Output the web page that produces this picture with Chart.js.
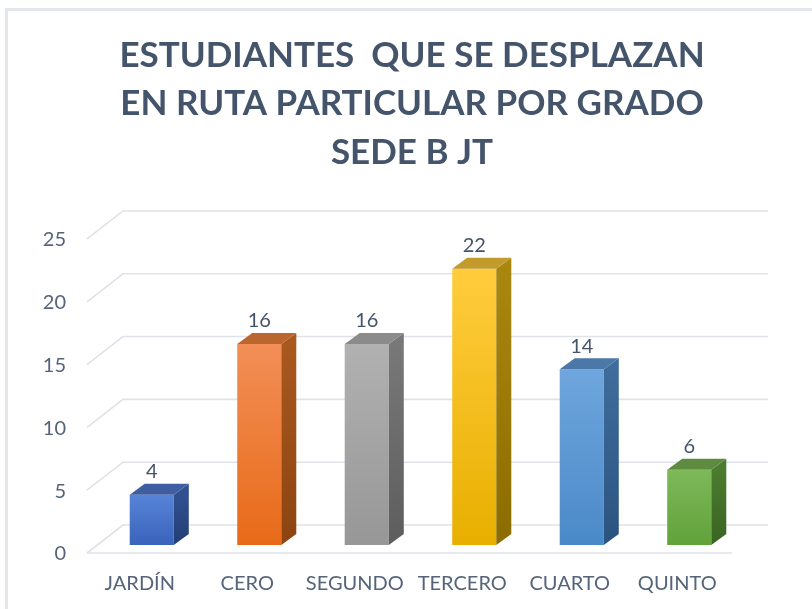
<!DOCTYPE html>
<html>
<head>
<meta charset="utf-8">
<script src="https://cdn.jsdelivr.net/npm/chart.js@4"></script>
<style>
  html, body { margin: 0; padding: 0; background: #fff; }
  #wrap { position: relative; width: 812px; height: 609px; }
</style>
</head>
<body>
<div id="wrap"><canvas id="grados" width="812" height="609"></canvas></div>
<script>
// ===== datos =====
const titleLines = ['ESTUDIANTES  QUE SE DESPLAZAN', 'EN RUTA PARTICULAR POR GRADO', 'SEDE B JT'];
const grados = ['JARDÍN', 'CERO', 'SEGUNDO', 'TERCERO', 'CUARTO', 'QUINTO'];
const estudiantes = [4, 16, 16, 22, 14, 6];
const yMin = 0;
const yMax = 25;
const yStep = 5;

// colores de cada barra: frente (arriba/abajo), lateral (arriba/abajo), tapa
const frontTop = ['#5784d7', '#f28f57', '#b1b1b1', '#ffcc3d', '#6fa6dd', '#7eb95a'];
const frontBot = ['#3a63bb', '#e86a18', '#979797', '#e8af00', '#4a89c8', '#61a23a'];
const sideTop = ['#30508f', '#a9581f', '#787878', '#a9870f', '#3f6c9a', '#4b7b2f'];
const sideBot = ['#233e73', '#8c4410', '#5d5d5d', '#8b6c00', '#2b5380', '#3a6421'];
const capColor = ['#3f5ea2', '#bb662e', '#8b8b8b', '#c29b2c', '#4b77a9', '#5f8b41'];

const textColor = '#44546a';
const labelColor = '#55647a';
const gridColor = '#dfe2e8';

// profundidad 3D
const barDepth = { dx: 15, dy: -11 };
const wallBack = { dx: 25, dy: -20 };
const wallFront = { dx: -11, dy: 8 };

function frontGradient(ctx) {
    const chart = ctx.chart;
    const i = ctx.dataIndex;
    if (!chart.chartArea || i === undefined) return frontBot[i || 0];
    const y = chart.scales.y;
    const top = y.getPixelForValue(estudiantes[i]);
    const base = y.getPixelForValue(0);
    const g = chart.ctx.createLinearGradient(0, top, 0, base);
    g.addColorStop(0, frontTop[i]);
    g.addColorStop(1, frontBot[i]);
    return g;
}

// ===== fondo: marco =====
const framePlugin = {
    id: 'frame',
    beforeDraw(chart) {
        const ctx = chart.ctx;
        ctx.save();
        ctx.strokeStyle = '#e3e6eb';
        ctx.lineWidth = 3;
        ctx.beginPath();
        ctx.moveTo(6.5, 609);
        ctx.lineTo(6.5, 9.5);
        ctx.lineTo(812, 9.5);
        ctx.stroke();
        ctx.restore();
    }
};

// ===== pared y piso en perspectiva =====
const wallPlugin = {
    id: 'wall',
    beforeDatasetsDraw(chart) {
        const { ctx, chartArea } = chart;
        const y = chart.scales.y;
        ctx.save();
        ctx.strokeStyle = gridColor;
        ctx.lineWidth = 1.6;
        y.ticks.forEach(t => {
            const py = y.getPixelForValue(t.value);
            ctx.beginPath();
            ctx.moveTo(chartArea.left + wallFront.dx, py + wallFront.dy);
            ctx.lineTo(chartArea.left + wallBack.dx, py + wallBack.dy);
            ctx.lineTo(chartArea.right + wallBack.dx, py + wallBack.dy);
            ctx.stroke();
            if (t.value === yMin) {
                ctx.beginPath();
                ctx.moveTo(chartArea.left + wallFront.dx, py + wallFront.dy);
                ctx.lineTo(chartArea.right + wallFront.dx, py + wallFront.dy);
                ctx.stroke();
            }
        });
        ctx.restore();
    }
};

// ===== caras laterales, tapas y etiquetas =====
const bar3dPlugin = {
    id: 'bar3d',
    afterDatasetsDraw(chart) {
        const ctx = chart.ctx;
        const meta = chart.getDatasetMeta(0);
        ctx.save();
        meta.data.forEach((bar, i) => {
            const p = bar.getProps(['x', 'y', 'base', 'width'], true);
            const l = p.x - p.width / 2;
            const r = p.x + p.width / 2;
            const { dx, dy } = barDepth;

            const sg = ctx.createLinearGradient(0, p.y, 0, p.base);
            sg.addColorStop(0, sideTop[i]);
            sg.addColorStop(1, sideBot[i]);
            ctx.fillStyle = sg;
            ctx.beginPath();
            ctx.moveTo(r, p.y);
            ctx.lineTo(r + dx, p.y + dy);
            ctx.lineTo(r + dx, p.base + dy);
            ctx.lineTo(r, p.base);
            ctx.closePath();
            ctx.fill();

            ctx.fillStyle = capColor[i];
            ctx.beginPath();
            ctx.moveTo(l, p.y);
            ctx.lineTo(l + dx, p.y + dy);
            ctx.lineTo(r + dx, p.y + dy);
            ctx.lineTo(r, p.y);
            ctx.closePath();
            ctx.fill();

            ctx.fillStyle = textColor;
            ctx.font = '20px Lato';
            ctx.textAlign = 'center';
            ctx.textBaseline = 'middle';
            ctx.fillText(String(estudiantes[i]), p.x, p.y - 23);
        });
        ctx.restore();
    }
};

new Chart(document.getElementById('grados'), {
    type: 'bar',
    data: {
        labels: grados,
        datasets: [{
            label: 'Estudiantes',
            data: estudiantes,
            backgroundColor: frontGradient,
            borderWidth: 0,
            categoryPercentage: 1,
            barPercentage: 0.41
        }]
    },
    options: {
        responsive: false,
        animation: false,
        layout: { padding: { left: 40, right: 28, top: 0, bottom: 0 } },
        scales: {
            y: {
                min: yMin,
                max: yMax,
                grid: { display: false, drawTicks: false },
                border: { display: false },
                ticks: {
                    stepSize: yStep,
                    padding: 32,
                    labelOffset: 9,
                    color: labelColor,
                    font: { family: 'Lato', size: 20 }
                },
                afterFit(s) { s.width = 58; }
            },
            // espacio vacío a la derecha de la pared
            margen: {
                position: 'right',
                grid: { display: false, drawTicks: false },
                border: { display: false },
                ticks: { display: false },
                afterFit(s) { s.width = 41; }
            },
            x: {
                grid: { display: false, drawTicks: false },
                border: { display: false },
                ticks: {
                    padding: 27,
                    labelOffset: -12,
                    maxRotation: 0,
                    color: labelColor,
                    font: { family: 'Lato', size: 20 }
                },
                afterFit(s) { s.height = 64; }
            }
        },
        plugins: {
            legend: { display: false },
            tooltip: { enabled: false },
            title: {
                display: true,
                text: titleLines,
                color: textColor,
                font: { family: 'Lato', size: 35, weight: 'bold', lineHeight: 1.39 },
                padding: { top: 31, bottom: 54 }
            }
        }
    },
    plugins: [framePlugin, wallPlugin, bar3dPlugin]
});
</script>
</body>
</html>
